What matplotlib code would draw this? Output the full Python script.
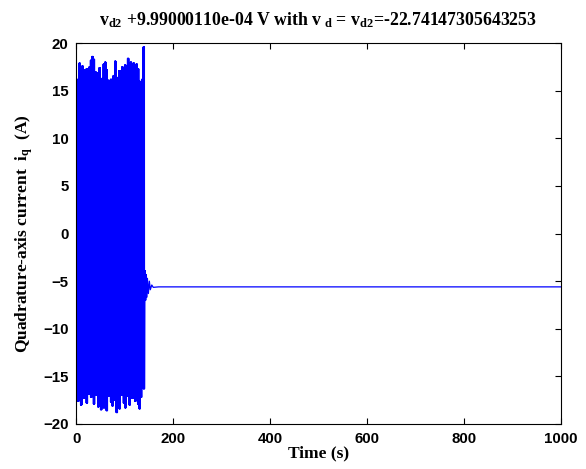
import matplotlib
matplotlib.use("Agg")
import matplotlib.pyplot as plt
import numpy as np

# ---- data ----
# oscillation peaks during the unstable phase (0 .. ~141 s)
upper_peaks = [15.8, 16.2, 17.9, 16.5, 17.6, 17.2, 16.8, 17.3, 16.0, 17.5, 18.2, 18.6,
               18.3, 17.0, 15.6, 16.9, 17.4, 15.9, 16.3, 17.8, 18.0, 17.2, 16.1, 15.8,
               16.2, 15.7, 16.6, 18.1, 16.4, 15.9, 17.1, 16.8, 17.5, 16.2, 17.7, 17.2,
               18.4, 17.6, 18.0, 17.1, 17.9, 16.5, 17.8, 17.3, 16.0, 15.8, 16.2, 19.6]
lower_peaks = [-16.8, -17.6, -16.4, -18.0, -16.5, -17.3, -16.2, -17.8, -16.9, -15.8, -17.2, -16.6,
               -17.9, -16.3, -17.0, -18.2, -17.5, -18.5, -16.9, -18.3, -17.4, -18.6, -17.1, -16.8,
               -17.7, -18.1, -16.7, -17.5, -18.8, -17.2, -18.4, -17.0, -16.6, -17.8, -18.3, -17.1,
               -16.9, -18.0, -16.4, -17.3, -16.2, -17.6, -16.3, -17.9, -18.4, -17.2, -15.9, -16.3]
cycles_per_peak = 6
osc_end = 141.0

# settling transient and steady state
tail_t = [141.5, 142.5, 143.5, 144.5, 145.5, 147, 149, 151, 153, 156, 159, 170, 1000]
tail_i = [-7.4, -3.9, -7.0, -4.3, -6.7, -4.7, -6.3, -5.0, -5.9, -5.4, -5.65, -5.6, -5.6]

title_str = (r"$\mathrm{v_{d2}}$ +9.99000110e-04 V with $\mathrm{v}_{\ \mathrm{d}}$"
             r" = $\mathrm{v_{d2}}$=-22.74147305643253")

# ---- build the line ----
up = np.repeat(upper_peaks, cycles_per_peak)
lo = np.repeat(lower_peaks, cycles_per_peak)
t_osc = np.linspace(0, osc_end, 2 * len(up))
i_osc = np.empty(2 * len(up))
i_osc[0::2] = up
i_osc[1::2] = lo
t = np.concatenate([t_osc, tail_t])
iq = np.concatenate([i_osc, tail_i])

plt.rcParams['mathtext.fontset'] = 'custom'
plt.rcParams['mathtext.rm'] = 'Liberation Serif:bold'
plt.rcParams['mathtext.it'] = 'Liberation Serif:bold'
plt.rcParams['mathtext.bf'] = 'Liberation Serif:bold'

fig = plt.figure(figsize=(5.86, 4.69), dpi=100)
ax = fig.add_axes([0.130, 0.096, 0.827, 0.812])

ax.plot(t, iq, color="blue", linewidth=0.9)

ax.set_xlim(0, 1000)
ax.set_ylim(-20, 20)
ax.set_xticks(np.arange(0, 1001, 200))
ax.set_yticks(np.arange(-20, 21, 5))
ax.tick_params(direction="in", top=True, right=True, length=4, width=0.8, pad=5.5)
for lab in ax.get_xticklabels() + ax.get_yticklabels():
    lab.set_fontfamily("Liberation Sans")
    lab.set_fontweight("bold")
    lab.set_fontsize(10.8)
for s in ax.spines.values():
    s.set_linewidth(0.8)

ax.set_xlabel("Time (s)", fontfamily="Liberation Serif", fontweight="bold", fontsize=12.5, labelpad=0)
ax.set_ylabel(r"Quadrature-axis current  i$_{\mathrm{q}}$  (A)", fontfamily="Liberation Serif",
              fontweight="bold", fontsize=12.5, labelpad=6)
ax.set_title(title_str, fontfamily="Liberation Serif", fontweight="bold", fontsize=12.8, pad=13)

plt.savefig("out.png", dpi=100)
